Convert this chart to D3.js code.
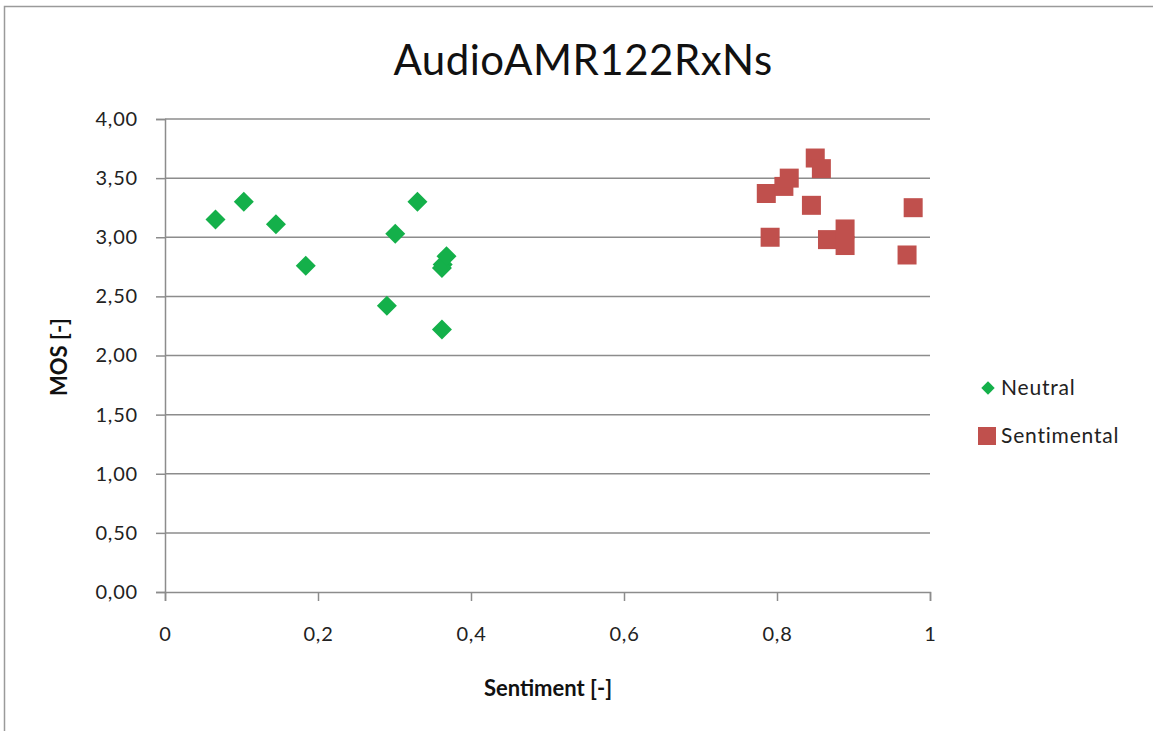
<!DOCTYPE html>
<html><head><meta charset="utf-8">
<script src="https://cdn.jsdelivr.net/npm/d3@7"></script>
<style>body{margin:0;background:#fff}svg{display:block}text{font-family:Lato,"Open Sans",sans-serif}</style>
</head><body>
<svg id="c" width="1153" height="731"></svg>
<script>
const title = "AudioAMR122RxNs";
const neutralX = [0.066, 0.103, 0.145, 0.184, 0.290, 0.301, 0.330, 0.363, 0.362, 0.368, 0.362];
const neutralY = [3.15, 3.30, 3.11, 2.76, 2.42, 3.03, 3.30, 2.77, 2.74, 2.84, 2.22];
const sentX = [0.786, 0.809, 0.816, 0.850, 0.858, 0.845, 0.791, 0.866, 0.889, 0.889, 0.978, 0.970];
const sentY = [3.37, 3.43, 3.50, 3.67, 3.58, 3.27, 3.00, 2.98, 3.07, 2.93, 3.25, 2.85];
const xTicks = [0, 0.2, 0.4, 0.6, 0.8, 1];
const yTicks = [0, 0.5, 1, 1.5, 2, 2.5, 3, 3.5, 4];
const seriesNames = ["Neutral", "Sentimental"];
const colors = ["#14b04a", "#c0504d"];

const svg = d3.select("#c");
const fmt = v => d3.format(".2f")(v).replace(".", ",");
const fmtX = v => String(v).replace(".", ",");

// outer chart frame
svg.append("path").attr("d", "M4.5,731 L4.5,6.5 L1153,6.5").attr("fill","none").attr("stroke","#9a9a9a").attr("stroke-width",1.5);

const x = d3.scaleLinear().domain([0,1]).range([165,930]);
const y = d3.scaleLinear().domain([0,4]).range([592,119]);

// gridlines
svg.append("g").selectAll("line").data(yTicks.filter(d=>d>0)).join("line")
  .attr("x1", x(0)).attr("x2", x(1)).attr("y1", d=>y(d)).attr("y2", d=>y(d))
  .attr("stroke","#8c8c8c").attr("stroke-width",1.5);

// y axis
const ya = svg.append("g").attr("transform",`translate(${x(0)},0)`)
  .call(d3.axisLeft(y).tickValues(yTicks).tickFormat(fmt).tickSize(9).tickPadding(18));
ya.select(".domain").attr("stroke","#8c8c8c").attr("stroke-width",1.5);
ya.selectAll(".tick line").attr("stroke","#8c8c8c").attr("stroke-width",1.5);
ya.selectAll("text").attr("font-size",20).attr("letter-spacing",0.8).attr("fill","#222");

// x axis
const xa = svg.append("g").attr("transform",`translate(0,${y(0)})`)
  .call(d3.axisBottom(x).tickValues(xTicks).tickFormat(fmtX).tickSize(9).tickPadding(26));
xa.select(".domain").attr("stroke","#8c8c8c").attr("stroke-width",1.5);
xa.selectAll(".tick line").attr("stroke","#8c8c8c").attr("stroke-width",1.5);
xa.selectAll("text").attr("font-size",20).attr("letter-spacing",0.8).attr("fill","#222");

// titles
svg.append("text").attr("x",583).attr("y",75).attr("text-anchor","middle").attr("font-size",42).attr("letter-spacing",0.5).attr("fill","#111").text(title);
svg.append("text").attr("x",548).attr("y",696).attr("text-anchor","middle").attr("font-size",22).attr("font-weight","bold").attr("fill","#111").text("Sentiment [-]");
svg.append("text").attr("transform","translate(67,357) rotate(-90)").attr("text-anchor","middle").attr("font-size",22).attr("font-weight","bold").attr("fill","#111").text("MOS [-]");

// points
const diamond = d3.symbol().type(d3.symbolSquare).size(200);
svg.append("g").selectAll("path").data(neutralX.map((v,i)=>[v,neutralY[i]])).join("path")
  .attr("d", diamond).attr("transform", d=>`translate(${x(d[0])},${y(d[1])}) rotate(45)`).attr("fill",colors[0]);
const s = 19;
svg.append("g").selectAll("rect").data(sentX.map((v,i)=>[v,sentY[i]])).join("rect")
  .attr("x", d=>x(d[0])-s/2).attr("y", d=>y(d[1])-s/2).attr("width",s).attr("height",s).attr("fill",colors[1]);

// legend
const lg = svg.append("g");
lg.append("path").attr("d", d3.symbol().type(d3.symbolSquare).size(90)).attr("transform","translate(988,388) rotate(45)").attr("fill",colors[0]);
lg.append("rect").attr("x",978).attr("y",427).attr("width",18).attr("height",18).attr("fill",colors[1]);
lg.selectAll("text").data(seriesNames).join("text").attr("x",1001).attr("y",(d,i)=>395+i*48)
  .attr("font-size",21).attr("letter-spacing",0.8).attr("fill","#222").text(d=>d);
</script>
</body></html>
